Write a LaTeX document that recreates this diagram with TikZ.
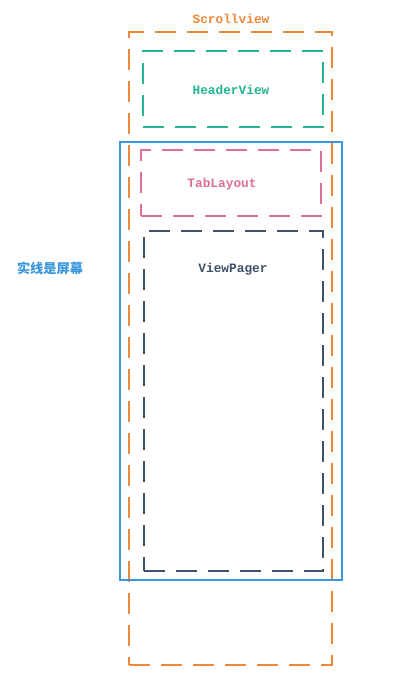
\documentclass[tikz,border=0pt]{standalone}
\usepackage{fontspec}
\newfontfamily\monob{Liberation Mono}
\newfontfamily\cjk{Noto Sans CJK SC}
\definecolor{cOrange}{HTML}{F0883A}
\definecolor{cTeal}{HTML}{22B593}
\definecolor{cPink}{HTML}{DE6F97}
\definecolor{cDark}{HTML}{3F5069}
\definecolor{cBlue}{HTML}{3A97DD}
\begin{document}
\begin{tikzpicture}[x=1pt,y=-1pt,
  frame/.style={draw, rectangle, inner sep=0pt, outer sep=0pt, line width=2pt,
    dash pattern=on 21pt off 11pt},
  lbl/.style={font=\monob\bfseries\fontsize{12.8}{14}\selectfont, inner sep=0pt}]
\path[fill=white] (0,0) rectangle (400,688);
\useasboundingbox (0,0) rectangle (400,688);
% Scrollview
\node[frame, draw=cOrange, minimum width=203pt, minimum height=633pt] (scroll) at (230.5,348.5) {};
\node[lbl, text=cOrange] (scrollL) at (231,19) {Scrollview};
% HeaderView
\node[frame, draw=cTeal, minimum width=180pt, minimum height=76pt] (header) at (233,89) {};
\node[lbl, text=cTeal] (headerL) at (231,90) {HeaderView};
% screen
\node[draw=cBlue, rectangle, line width=1.6pt, inner sep=0pt, outer sep=0pt, minimum width=222pt, minimum height=438pt] (screen) at (231,361) {};
% TabLayout
\node[frame, draw=cPink, minimum width=180pt, minimum height=66pt] (tab) at (231,183) {};
\node[lbl, text=cPink] (tabL) at (222,184) {TabLayout};
% ViewPager
\node[frame, draw=cDark, line width=2.4pt, minimum width=179pt, minimum height=340pt] (pager) at (233.5,401) {};
\node[lbl, text=cDark] (pagerL) at (233,269) {ViewPager};
% note
\node[font=\cjk\bfseries\fontsize{13.2}{15}\selectfont, text=cBlue, inner sep=0pt] (note) at (50,268) {实线是屏幕};
\end{tikzpicture}
\end{document}
